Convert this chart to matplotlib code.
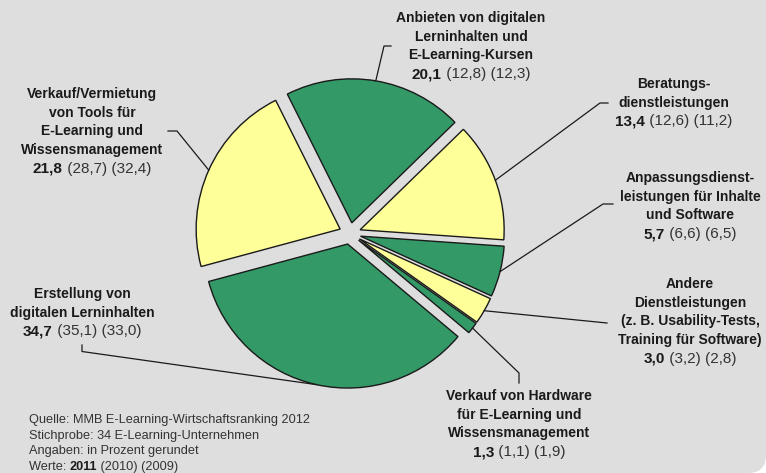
import numpy as np
import matplotlib
matplotlib.use("Agg")
import matplotlib.pyplot as plt
from matplotlib.patches import FancyBboxPatch
from matplotlib import font_manager

# Umsatzanteile nach Geschaeftsfeld, Werte 2011 (2010) (2009)
labels = [
    ["Anbieten von digitalen", "Lerninhalten und", "E-Learning-Kursen"],
    ["Beratungs-", "dienstleistungen"],
    ["Anpassungsdienst-", "leistungen für Inhalte", "und Software"],
    ["Andere", "Dienstleistungen", "(z. B. Usability-Tests,", "Training für Software)"],
    ["Verkauf von Hardware", "für E-Learning und", "Wissensmanagement"],
    ["Erstellung von", "digitalen Lerninhalten"],
    ["Verkauf/Vermietung", "von Tools für", "E-Learning und", "Wissensmanagement"],
]
werte_2011 = [20.1, 13.4, 5.7, 3.0, 1.3, 34.7, 21.8]
werte_2010 = [12.8, 12.6, 6.6, 3.2, 1.1, 35.1, 28.7]
werte_2009 = [12.3, 11.2, 6.5, 2.8, 1.9, 33.0, 32.4]

fussnote = ["Quelle: MMB E-Learning-Wirtschaftsranking 2012",
            "Stichprobe: 34 E-Learning-Unternehmen",
            "Angaben: in Prozent gerundet"]

GREEN = "#339966"
YELLOW = "#ffff99"
colors = [GREEN, YELLOW, GREEN, YELLOW, GREEN, GREEN, YELLOW]

W, H = 766, 473
def iy(y):
    # Bildkoordinate (von oben) -> Datenkoordinate
    return H - y

# Beschriftungen: Mitte x, erste Zeile y, Knickpunkte der Fuehrungslinie (Bildkoordinaten)
label_pos = [(471, 18), (674, 84), (690, 178), (690, 284), (519, 396), (82, 294), (92, 94)]
leader_pts = [
    [(384, 46), (391, 46)],
    [(600, 103), (608, 103)],
    [(603, 204), (613, 204)],
    [(607, 323)],
    [(519, 373), (519, 383)],
    [(82, 351.5), (82, 345)],
    [(177, 131), (168, 131)],
]
LINE_H = 18.7

names = {f.name for f in font_manager.fontManager.ttflist}
FONT = "Liberation Sans" if "Liberation Sans" in names else "DejaVu Sans"
plt.rcParams["font.family"] = [FONT, "DejaVu Sans"]

fig = plt.figure(figsize=(W / 100, H / 100), dpi=100)
fig.patch.set_facecolor("white")
ax = fig.add_axes([0, 0, 1, 1])

bg = FancyBboxPatch((-100, 0), W + 100, H + 100,
                    boxstyle="round,pad=0,rounding_size=18",
                    fc="#dedede", ec="none", zorder=0)
ax.add_patch(bg)

R = 144
# explode wird von matplotlib in Dateneinheiten verschoben
wedges, _ = ax.pie(werte_2011, colors=colors, startangle=116.6, counterclock=False,
                   explode=[0.075 * R] * len(werte_2011), radius=R, center=(350, iy(233.5)),
                   wedgeprops=dict(edgecolor="#1a1a1a", linewidth=1.0), frame=True)
ax.set_xlim(0, W)
ax.set_ylim(0, H)
ax.set_aspect("equal")
ax.axis("off")

def fmt(v):
    return f"{v:.1f}".replace(".", ",")

fig.canvas.draw()
renderer = fig.canvas.get_renderer()

for i, w in enumerate(wedges):
    mid = np.deg2rad((w.theta1 + w.theta2) / 2)
    cx, cy = w.center
    pts = [(cx + R * np.cos(mid), cy + R * np.sin(mid))]
    pts += [(x, iy(y)) for x, y in leader_pts[i]]
    xs, ys = zip(*pts)
    ax.plot(xs, ys, color="#1a1a1a", lw=0.9, zorder=3)

    lx, ly = label_pos[i]
    for k, line in enumerate(labels[i]):
        ax.text(lx, iy(ly + k * LINE_H), line, ha="center", va="center",
                fontsize=10, fontweight="bold", color="#1a1a1a")
    yn = iy(ly + len(labels[i]) * LINE_H)
    t1 = ax.text(0, yn, fmt(werte_2011[i]), ha="left", va="center",
                 fontsize=11, fontweight="bold", color="#1a1a1a")
    t2 = ax.text(0, yn, f" ({fmt(werte_2010[i])}) ({fmt(werte_2009[i])})",
                 ha="left", va="center", fontsize=11, color="#333333")
    w1 = t1.get_window_extent(renderer).width
    w2 = t2.get_window_extent(renderer).width
    x0 = lx - (w1 + w2) / 2
    t1.set_x(x0)
    t2.set_x(x0 + w1)

FS = 9.2
for k, line in enumerate(fussnote):
    ax.text(29, iy(420 + k * 15.5), line, ha="left", va="center",
            fontsize=FS, color="#333333")
yf = iy(420 + 3 * 15.5)
f1 = ax.text(29, yf, "Werte: ", ha="left", va="center", fontsize=FS, color="#333333")
f2 = ax.text(0, yf, "2011", ha="left", va="center", fontsize=FS,
             fontweight="bold", color="#1a1a1a")
f3 = ax.text(0, yf, " (2010) (2009)", ha="left", va="center", fontsize=FS, color="#333333")
a = f1.get_window_extent(renderer).width
b = f2.get_window_extent(renderer).width
f2.set_x(29 + a)
f3.set_x(29 + a + b)

fig.savefig("out.png", dpi=100, facecolor=fig.get_facecolor())
